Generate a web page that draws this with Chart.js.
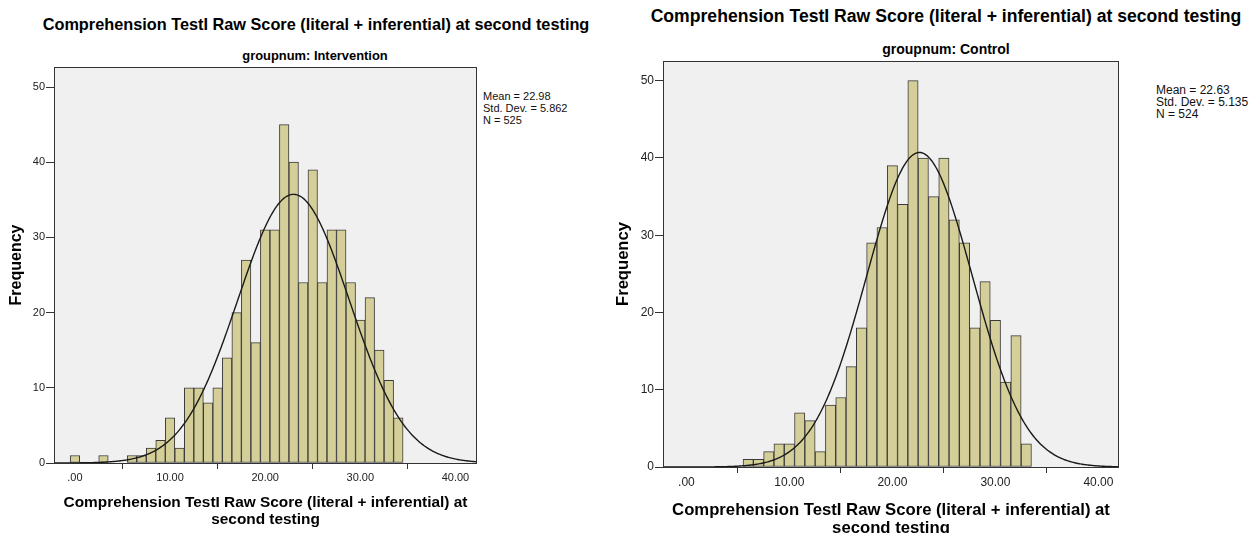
<!DOCTYPE html>
<html><head><meta charset="utf-8">
<script src="https://cdn.jsdelivr.net/npm/chart.js@4.4.1/dist/chart.umd.min.js"></script>
<style>
html,body{margin:0;padding:0;background:#fff;width:1254px;height:533px;overflow:hidden;font-family:"Liberation Sans",Arial,sans-serif;}
.abs{position:absolute;white-space:nowrap;color:#000;line-height:1;}
.ttl{font-weight:bold;transform:translate(-50%,-50%);}
.stats{color:#111;}
.stats div{height:12px;line-height:12px;}
canvas{position:absolute;top:0;}
</style></head><body>
<div class="abs ttl" id="t1" style="left:316px;top:24px;font-size:16.3px"></div>
<div class="abs ttl" id="s1" style="left:315px;top:56px;font-size:12.9px"></div>
<div class="abs stats" id="st1" style="left:483px;top:90px;font-size:11px"></div>
<div class="abs ttl" id="t2" style="left:946px;top:17px;font-size:17.6px"></div>
<div class="abs ttl" id="s2" style="left:946px;top:49px;font-size:14px"></div>
<div class="abs stats" id="st2" style="left:1156px;top:84px;font-size:12px"></div>
<canvas id="c1" width="620" height="560" style="left:0px;width:620px;height:560px"></canvas>
<canvas id="c2" width="654" height="560" style="left:600px;width:654px;height:560px"></canvas>
<script>
// ---- data ----
const chartTitle = 'Comprehension TestI Raw Score (literal + inferential) at second testing';
const xAxisTitle = ['Comprehension TestI Raw Score (literal + inferential) at', 'second testing'];
const yAxisTitle = 'Frequency';
const groupLabels = ['groupnum: Intervention', 'groupnum: Control'];

const xTickValues = [0, 10, 20, 30, 40];
const xTickLabels = ['.00', '10.00', '20.00', '30.00', '40.00'];
const yTickValues = [0, 10, 20, 30, 40, 50];
const yTickLabels = ['0', '10', '20', '30', '40', '50'];

const scoresIntervention = [0, 3, 6, 7, 8, 9, 10, 11, 12, 13, 14, 15, 16, 17, 18, 19, 20, 21, 22, 23, 24, 25, 26, 27, 28, 29, 30, 31, 32, 33, 34];
const freqIntervention   = [1, 1, 1, 1, 2, 3, 6, 2, 10, 10, 8, 10, 14, 20, 27, 16, 31, 31, 45, 40, 24, 39, 24, 31, 31, 24, 19, 22, 15, 11, 6];
const statsIntervention  = { mean: 22.98, sd: 5.862, n: 525 };

const scoresControl = [6, 7, 8, 9, 10, 11, 12, 13, 14, 15, 16, 17, 18, 19, 20, 21, 22, 23, 24, 25, 26, 27, 28, 29, 30, 31, 32, 33];
const freqControl   = [1, 1, 2, 3, 3, 7, 6, 2, 8, 9, 13, 18, 29, 31, 39, 34, 50, 40, 35, 40, 32, 29, 18, 24, 19, 11, 17, 3];
const statsControl  = { mean: 22.63, sd: 5.135, n: 524 };

const binWidth = 1;

// ---- text ----
document.getElementById('t1').textContent = chartTitle;
document.getElementById('t2').textContent = chartTitle;
document.getElementById('s1').textContent = groupLabels[0];
document.getElementById('s2').textContent = groupLabels[1];
function statsHtml(s) {
  return '<div>Mean = ' + s.mean.toFixed(2) + '</div><div>Std. Dev. = ' + s.sd.toFixed(3) + '</div><div>N = ' + s.n + '</div>';
}
document.getElementById('st1').innerHTML = statsHtml(statsIntervention);
document.getElementById('st2').innerHTML = statsHtml(statsControl);

// fitted normal curve (SPSS overlay) from the displayed Mean / Std. Dev. / N
function normalCurve(s, xmin, xmax) {
  const pts = [];
  for (let i = 0; i <= 400; i++) {
    const x = xmin + (xmax - xmin) * i / 400;
    const z = (x - s.mean) / s.sd;
    pts.push({ x: x, y: s.n * binWidth * Math.exp(-0.5 * z * z) / (s.sd * Math.sqrt(2 * Math.PI)) });
  }
  return pts;
}

const FONT = '"Liberation Sans", Arial, sans-serif';

const plotFrame = {
  id: 'plotFrame',
  beforeDraw(chart) {
    const { ctx, chartArea: a } = chart;
    ctx.save();
    ctx.fillStyle = '#f0f0f0';
    ctx.fillRect(a.left, a.top, a.right - a.left, a.bottom - a.top);
    ctx.restore();
  },
  afterDraw(chart) {
    const { ctx, chartArea: a } = chart;
    ctx.save();
    ctx.strokeStyle = '#333';
    ctx.lineWidth = 1;
    ctx.strokeRect(Math.round(a.left) + 0.5, Math.round(a.top) + 0.5, Math.round(a.right - a.left) - 1, Math.round(a.bottom - a.top));
    ctx.restore();
  }
};

function makeChart(id, scores, freq, stats, g) {
  const bars = scores.map((x, i) => ({ x: x, y: freq[i] }));
  return new Chart(document.getElementById(id), {
    type: 'bar',
    data: {
      datasets: [
        {
          type: 'line', order: 0, data: normalCurve(stats, g.xmin, g.xmax),
          borderColor: '#1a1a1a', borderWidth: 1.4, pointRadius: 0, tension: 0, fill: false
        },
        {
          type: 'bar', order: 1, data: bars,
          backgroundColor: '#d4cf98', borderColor: '#3a3a3a', borderWidth: 1,
          categoryPercentage: 1, barPercentage: 1, borderSkipped: false
        }
      ]
    },
    options: {
      responsive: false, animation: false, devicePixelRatio: 1,
      layout: { padding: { left: 0, right: g.padRight, top: g.padTop, bottom: 0 } },
      plugins: { legend: { display: false }, tooltip: { enabled: false }, title: { display: false } },
      scales: {
        x: {
          type: 'linear', min: g.xmin, max: g.xmax, offset: false,
          afterBuildTicks: s => { s.ticks = xTickValues.map(v => ({ value: v })); },
          afterFit: s => { s.height = g.xHeight; },
          ticks: { color: '#222', font: { family: FONT, size: g.tickSize }, padding: g.xTickPad, maxRotation: 0, autoSkip: false,
                   callback: (v) => xTickLabels[xTickValues.indexOf(v)] },
          grid: { display: true, drawOnChartArea: false, drawTicks: true, tickLength: 6, tickColor: '#333', tickWidth: 1 },
          border: { display: false },
          title: { display: true, text: xAxisTitle, color: '#000',
                   font: { family: FONT, size: g.xTitleSize, weight: 'bold', lineHeight: g.xTitleLH + 'px' },
                   padding: { top: 0, bottom: g.xTitlePadB } }
        },
        y: {
          type: 'linear', min: 0, max: g.ymax,
          afterBuildTicks: s => { s.ticks = yTickValues.map(v => ({ value: v })); },
          afterFit: s => { s.width = g.yWidth; },
          ticks: { color: '#222', font: { family: FONT, size: g.tickSize }, padding: 1,
                   callback: (v) => yTickLabels[yTickValues.indexOf(v)] },
          grid: { display: true, drawOnChartArea: false, drawTicks: true, tickLength: 8, tickColor: '#333', tickWidth: 1 },
          border: { display: false },
          title: { display: true, text: yAxisTitle, color: '#000',
                   font: { family: FONT, size: g.yTitleSize, weight: 'bold', lineHeight: 1.2 },
                   padding: { top: g.yTitlePadT, bottom: 0 } }
        }
      }
    },
    plugins: [plotFrame]
  });
}

makeChart('c1', scoresIntervention, freqIntervention, statsIntervention, {
  xmin: -2.2, xmax: 42.27, ymax: 52.66,
  padTop: 67, padRight: 620 - 477, xHeight: 560 - 463, yWidth: 54,
  tickSize: 11, xTickPad: 2, xTitleSize: 15.4, xTitleLH: 17, xTitlePadB: 31.5,
  yTitleSize: 16, yTitlePadT: 7.4
});
makeChart('c2', scoresControl, freqControl, statsControl, {
  xmin: -2.27, xmax: 42.0, ymax: 52.55,
  padTop: 61, padRight: 654 - 519, xHeight: 560 - 467, yWidth: 63,
  tickSize: 12, xTickPad: 2, xTitleSize: 16.7, xTitleLH: 18, xTitlePadB: 23,
  yTitleSize: 16.6, yTitlePadT: 13
});
</script>
</body></html>
